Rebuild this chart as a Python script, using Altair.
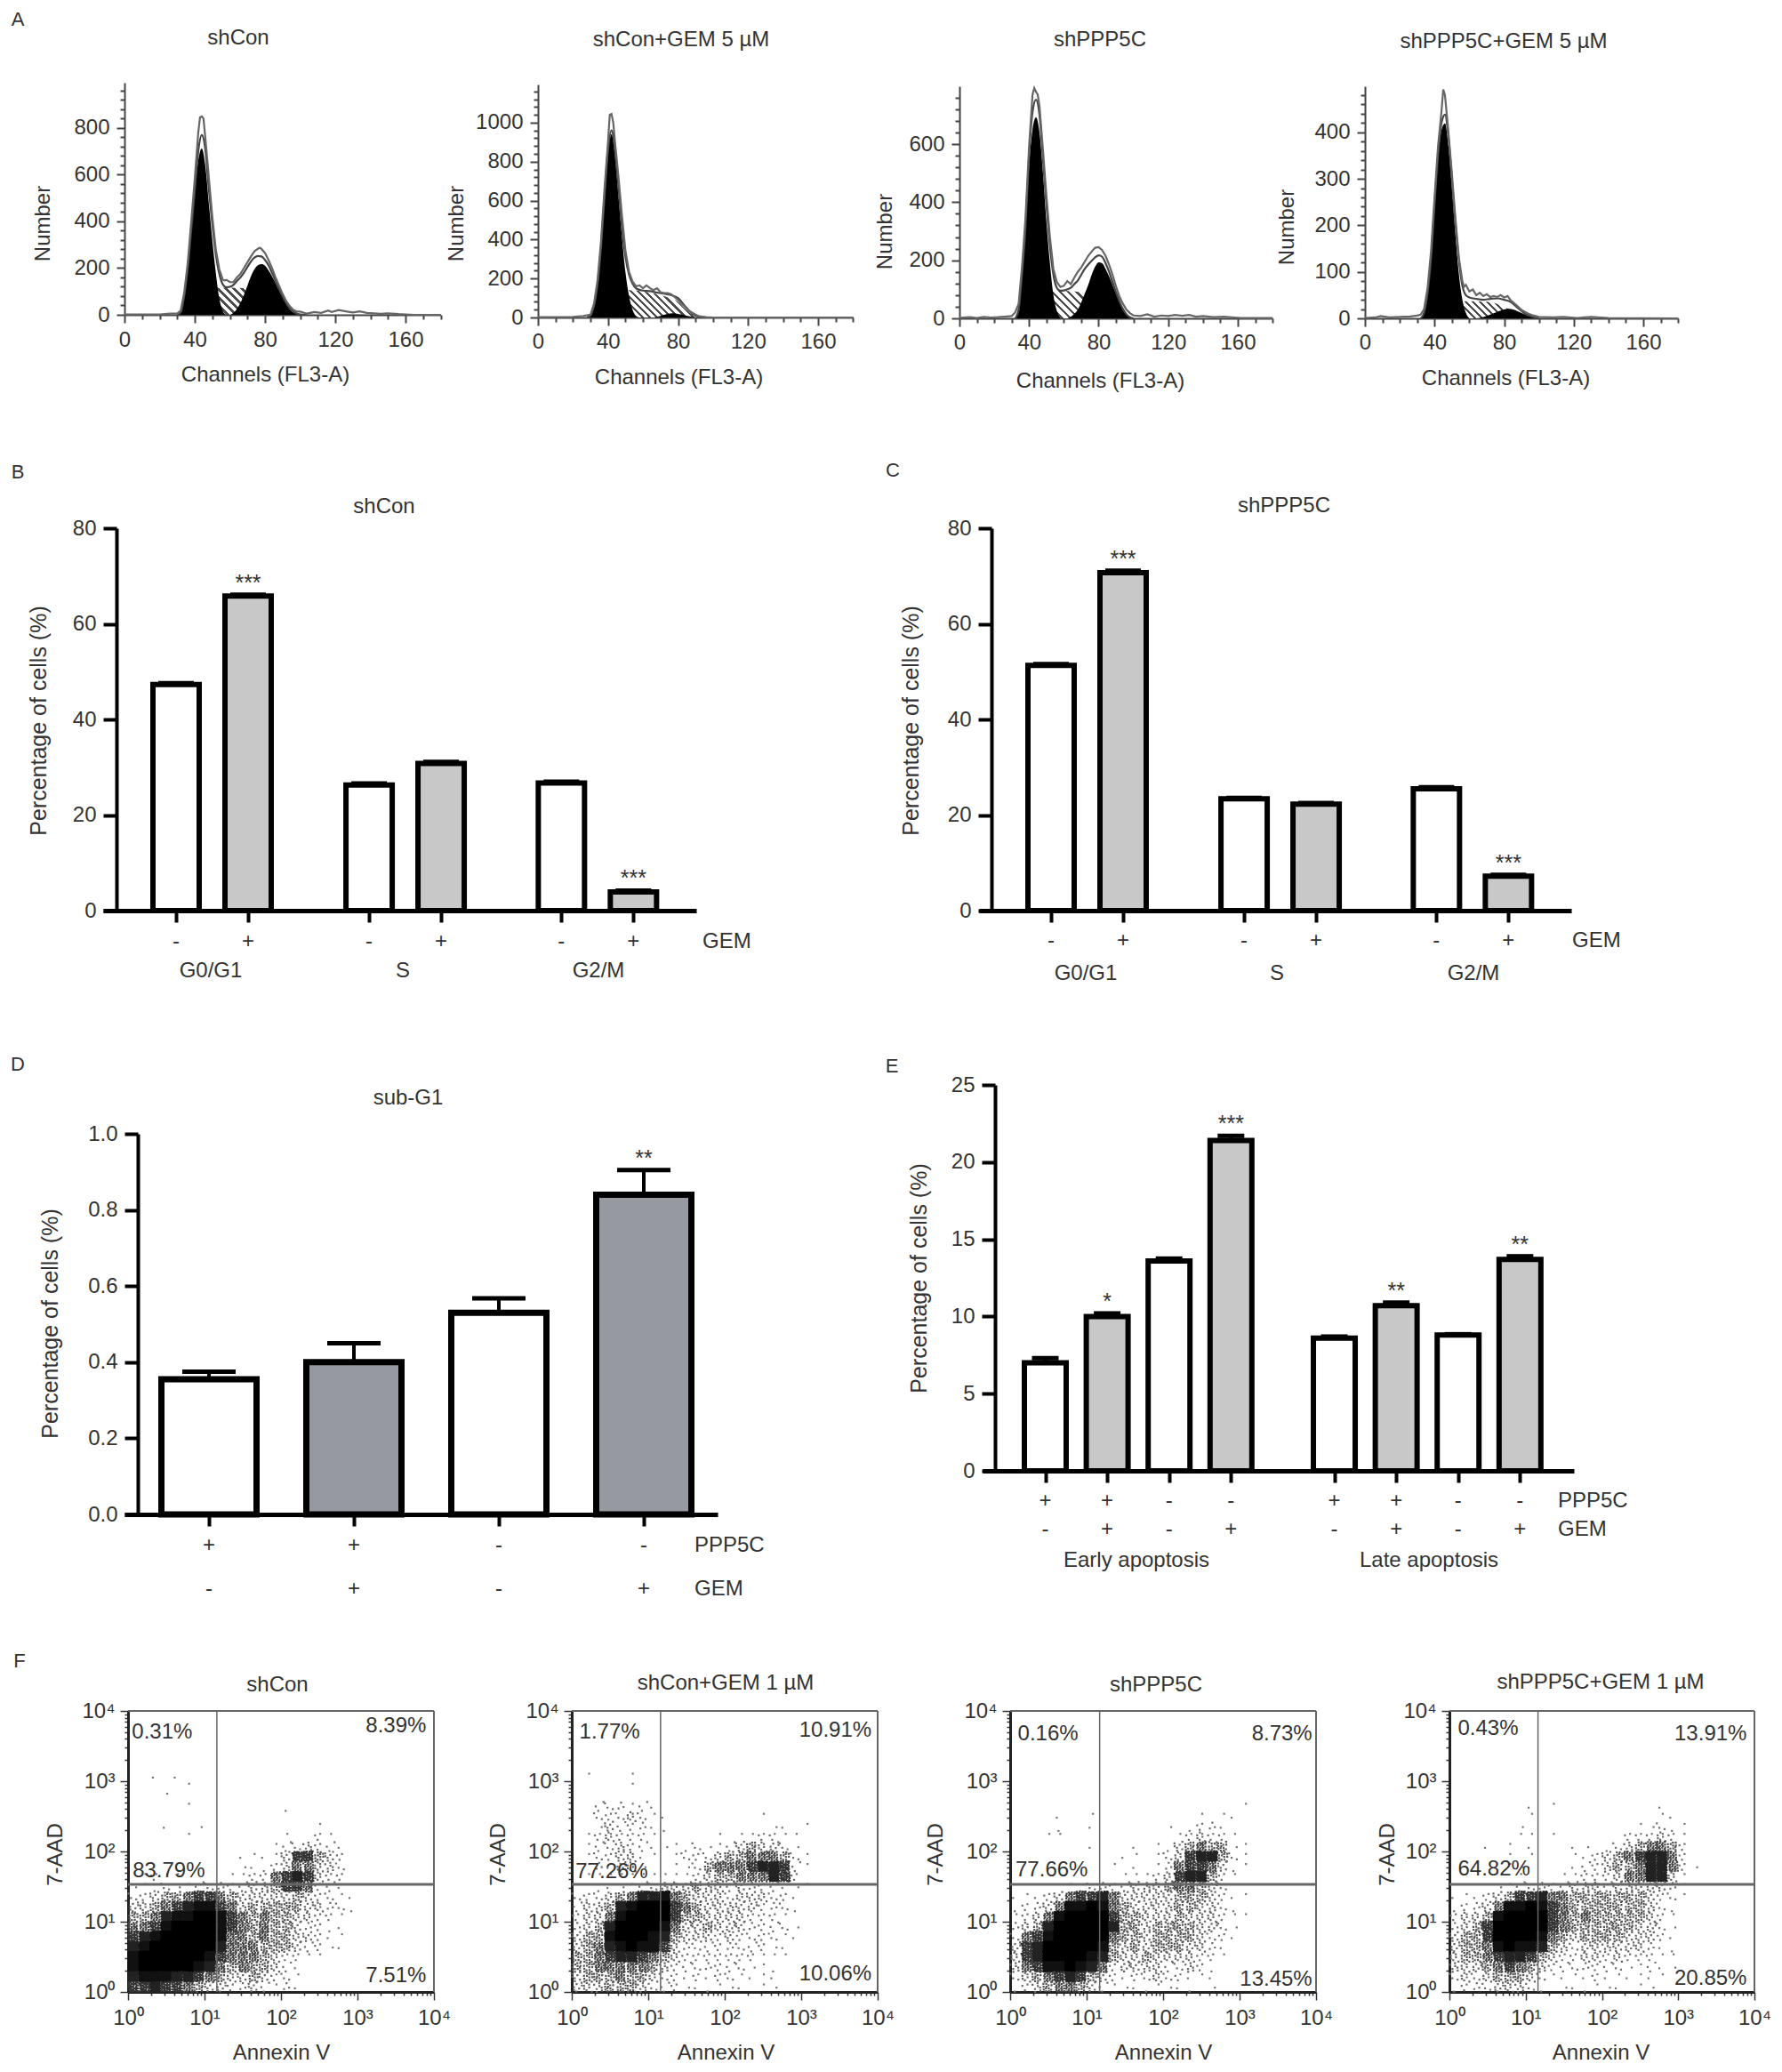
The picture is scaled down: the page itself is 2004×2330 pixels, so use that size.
import altair as alt
import pandas as pd

FONT = "Liberation Sans"
INK = "#333333"

# ---------- A: histogram readings, (channel, count) ----------
A1_G1 = [(30,0),(32,10),(34,80),(36,200),(38,360),(40,520),(42,660),(44,712),(46,640),(48,480),(50,320),(52,180),(54,70),(56,15),(58,0)]
A1_S = [(46,113),(60,116),(70,113),(76,60),(80,0)]
A1_G2 = [(60,0),(62,8),(64,25),(66,50),(68,85),(70,125),(72,165),(74,195),(76,212),(78,217),(80,210),(82,190),(84,165),(86,135),(88,105),(90,75),(92,48),(94,25),(96,10),(98,3),(100,0)]
A1_FIT = [(30,0),(32,10),(34,80),(36,200),(38,360),(40,530),(42,700),(44,770),(46,710),(48,540),(50,390),(52,260),(54,175),(56,130),(58,118),(60,120),(62,128),(64,145),(66,160),(68,180),(70,205),(72,228),(74,245),(76,252),(78,250),(80,235),(82,212),(84,180),(86,145),(88,112),(90,80),(92,52),(94,30),(96,15),(98,6),(100,2),(104,0)]
A1_HIST = [(0,2),(20,2),(26,5),(30,5),(32,18),(34,95),(36,220),(38,400),(40,580),(42,780),(43,846),(44,850),(45,840),(46,760),(48,590),(50,420),(52,280),(54,195),(56,150),(57,147),(58,150),(60,140),(62,140),(64,160),(66,175),(68,200),(70,225),(72,250),(74,272),(76,283),(77,287),(78,282),(80,265),(82,235),(84,200),(86,160),(88,125),(90,90),(92,60),(94,38),(96,22),(98,14),(100,14),(104,5),(108,12),(112,8),(116,18),(118,12),(122,20),(126,15),(130,10),(134,15),(138,8),(142,6),(146,4),(150,6),(156,3),(160,2),(165,0),(180,0)]

A2_G1 = [(28,0),(30,10),(32,60),(34,170),(36,360),(38,620),(40,850),(42,940),(44,830),(46,620),(48,410),(50,230),(52,110),(54,40),(56,8),(58,0)]
A2_S = [(44,135),(50,140),(60,135),(65,125),(70,115),(75,100),(80,80),(84,45),(88,15),(92,0)]
A2_G2 = [(66,0),(70,8),(74,18),(77,22),(80,18),(84,10),(88,3),(92,0)]
A2_FIT = [(28,0),(30,10),(32,60),(34,170),(36,360),(38,620),(40,860),(42,960),(44,860),(46,670),(48,460),(50,310),(52,220),(54,175),(56,150),(58,142),(60,138),(64,135),(68,128),(72,122),(76,115),(80,100),(84,58),(88,20),(92,3),(96,0)]
A2_HIST = [(0,2),(20,3),(26,8),(30,15),(32,70),(34,190),(36,390),(38,660),(40,900),(41,1040),(42,1045),(43,1000),(44,900),(46,720),(48,520),(50,340),(52,235),(54,185),(56,160),(58,165),(60,150),(62,165),(64,150),(66,140),(68,150),(70,130),(72,125),(74,125),(76,120),(78,105),(80,90),(82,70),(84,55),(86,35),(88,25),(90,15),(92,6),(96,2),(100,0),(180,0)]

A3_G1 = [(32,0),(34,30),(36,150),(38,310),(40,520),(42,650),(44,692),(46,640),(48,500),(50,330),(52,190),(54,80),(56,25),(58,0)]
A3_S = [(46,92),(60,95),(70,90),(76,40),(80,0)]
A3_G2 = [(62,0),(64,5),(66,15),(68,30),(70,55),(72,85),(74,115),(76,150),(78,178),(80,193),(82,190),(84,170),(86,145),(88,115),(90,85),(92,55),(94,30),(96,12),(98,3),(100,0)]
A3_FIT = [(32,0),(34,30),(36,155),(38,320),(40,560),(42,710),(44,753),(46,700),(48,550),(50,390),(52,250),(54,150),(56,105),(58,95),(60,96),(62,100),(64,105),(66,118),(68,130),(70,150),(72,170),(74,185),(76,198),(78,210),(80,217),(82,212),(84,190),(86,160),(88,125),(90,90),(92,58),(94,32),(96,14),(98,4),(100,0)]
A3_HIST = [(0,2),(6,4),(10,1),(14,5),(18,3),(22,4),(26,6),(30,8),(32,20),(34,50),(36,180),(38,350),(40,590),(42,770),(43,793),(44,780),(45,770),(46,730),(48,580),(50,420),(52,280),(54,170),(56,125),(58,108),(60,112),(62,128),(64,118),(66,140),(68,160),(70,175),(72,195),(74,215),(76,230),(78,243),(80,245),(82,235),(84,215),(86,185),(88,150),(90,110),(92,75),(94,50),(96,30),(98,18),(100,10),(104,8),(108,14),(112,6),(116,10),(120,8),(124,12),(128,9),(132,12),(136,6),(140,8),(146,4),(152,6),(158,3),(162,1),(180,1)]

A4_G1 = [(32,0),(34,12),(36,55),(38,130),(40,240),(42,340),(44,405),(46,419),(48,370),(50,280),(52,180),(54,95),(56,40),(58,12),(60,0)]
A4_S = [(48,36),(60,37),(70,36),(78,28),(84,15),(88,0)]
A4_G2 = [(64,0),(68,3),(72,8),(76,14),(80,19),(82,21),(84,20),(88,15),(92,8),(96,3),(100,0)]
A4_FIT = [(32,0),(34,12),(36,55),(38,130),(40,245),(42,350),(44,420),(46,438),(48,390),(50,300),(52,205),(54,125),(56,70),(58,50),(60,45),(64,42),(68,40),(72,42),(76,43),(80,40),(84,35),(88,22),(92,10),(96,4),(100,0)]
A4_HIST = [(0,1),(6,2),(9,5),(14,2),(20,3),(26,4),(30,6),(32,8),(34,20),(36,65),(38,145),(40,260),(42,370),(44,445),(45,492),(46,480),(47,440),(48,400),(50,310),(52,215),(54,130),(56,80),(57,68),(58,72),(60,58),(62,62),(64,50),(66,55),(68,48),(70,52),(72,46),(74,48),(76,46),(78,50),(80,45),(82,48),(84,38),(86,32),(88,25),(90,18),(92,14),(94,10),(96,7),(100,3),(108,2),(114,3),(122,1),(130,3),(140,1),(180,0)]

# ---------- B-E: bar readings ----------
B_SIGNS = ["-", "+", "-", "+", "-", "+"]
B_VALUES = [47.3, 65.8, 26.3, 30.8, 26.7, 3.9]
B_TOPS = [47.6, 66.1, 26.6, 31.1, 27.0, 4.2]
B_STARS = ["", "***", "", "", "", "***"]
C_VALUES = [51.3, 70.7, 23.4, 22.3, 25.5, 7.2]
C_TOPS = [51.6, 71.1, 23.6, 22.5, 25.8, 7.5]
C_STARS = ["", "***", "", "", "", "***"]
D_PPP5C = ["+", "+", "-", "-"]
D_GEM = ["-", "+", "-", "+"]
D_VALUES = [0.355, 0.40, 0.53, 0.84]
D_TOPS = [0.375, 0.45, 0.568, 0.905]
D_STARS = ["", "", "", "**"]
E_PPP5C = ["+", "+", "-", "-", "+", "+", "-", "-"]
E_GEM = ["-", "+", "-", "+", "-", "+", "-", "+"]
E_VALUES = [7.0, 10.0, 13.6, 21.4, 8.6, 10.7, 8.8, 13.7]
E_TOPS = [7.3, 10.2, 13.75, 21.7, 8.7, 10.9, 8.85, 13.9]
E_STARS = ["", "*", "", "***", "", "**", "", "**"]

# ---------- F: density of events read per cell, 7 cells per decade, top row first ----------
F1_GRID = """000000000000000000000000
001010000000000000000000
000001000000000000000000
000100000000000000000000
000001000000001000000000
000000000000000000000000
000100100000000001000000
000001000000001002100000
000000000000012232210000
000000000011113664320000
000000000011123553320000
012110000112256763220000
111211222223346652210000
223445665433333432211000
334567886534444433221000
445788998654544332210000
556899998654544322110000
678999998554544332110000
789999997555444322110000
899999986555432211000000
899999875454432100000000
788877654334322100000000
667665433223212100000000""".split("\n")
F2_GRID = """000000000000000000000000
010001000000000000000000
000001000000000000000000
000000000000000000000000
002221210000000000000000
002223211000000001000000
001322211000000000110100
012322210000010112211000
012232211112112343321000
012233110122234455542100
012133100112455567762100
011111111112344555762000
001111223334332322211100
222345778543332333221000
233478999654333332221000
233589999644333322210000
234799998533433322221000
344899987433323222211000
345789886322222222110000
445677654322222221110000
445555543222222211100000
344454432212122111100000
333444322211111101100000""".split("\n")
F3_GRID = """000000000000000000000000
000000000000000000000000
000000000000000000000000
000000000000000000000000
000000000000000000000100
000010010000000001011000
000010010000001012210000
000110000000000123221000
000000010001011345441100
000000000011012367742100
000000000101012566531100
000000000011123677421000
000001122223334554320000
111235667533333444321100
122358898543333443321000
123589999644333433321100
234799999744344443321000
256899999544344443221000
367999998434344433210000
367999987433433332210000
356889875233332232100000
234567643212232211100000
123455432111111110100000""".split("\n")
F4_GRID = """000000000000000000000000
000000000000000000000000
000000000000000000000000
000000000000000000000000
000000010100000000010000
000000010000000000011000
000000100000000001121100
000000110100000022232100
000101010001101234554200
000001010001123456775200
000001110001223445775210
000000100011222355773100
000011222223332333332100
111234667554444444322100
122358898654444444321000
233489999654544444321000
234699999654444443321000
344699998543444433321000
344589887432333333211000
344567764322332322211000
333456543222222211211000
232344432111121111110000
122233321011111101100000""".split("\n")
F1_PCT = ["0.31%", "8.39%", "83.79%", "7.51%"]
F2_PCT = ["1.77%", "10.91%", "77.26%", "10.06%"]
F3_PCT = ["0.16%", "8.73%", "77.66%", "13.45%"]
F4_PCT = ["0.43%", "13.91%", "64.82%", "20.85%"]
# decade positions of the four percent labels: (x, y)
F1_PCT_AT = [(.05,3.70),(3.90,3.78),(.06,1.72),(3.90,.23)]
F2_PCT_AT = [(.10,3.70),(3.92,3.72),(.05,1.71),(3.92,.25)]
F3_PCT_AT = [(.10,3.67),(3.95,3.67),(.07,1.74),(3.95,.18)]
F4_PCT_AT = [(.11,3.75),(3.90,3.67),(.11,1.75),(3.90,.19)]


def text(s, x, y, size=24, align="center", angle=0, color=INK, weight="normal"):
    return alt.Chart(pd.DataFrame({"t": [s]})).mark_text(
        font=FONT, fontSize=size, align=align, baseline="middle", angle=angle, color=color, fontWeight=weight
    ).encode(text="t:N", x=alt.value(x), y=alt.value(y))


def cell(layers, w, h):
    return alt.layer(*layers).properties(width=w, height=h)


def hatch(w, h, period=7.0):
    # diagonal stripes at 45 degrees in pixel space for a w x h box
    n = max(3, int((w + h) / period))
    c = 1 + h / w
    stops = []
    for k in range(n):
        stops += [
            alt.GradientStop(color="#ffffff", offset=k / n),
            alt.GradientStop(color="#ffffff", offset=(k + 0.62) / n),
            alt.GradientStop(color="#4a4a4a", offset=(k + 0.62) / n),
            alt.GradientStop(color="#4a4a4a", offset=(k + 1) / n),
        ]
    return alt.LinearGradient(gradient="linear", stops=stops, x1=0, y1=1, x2=c, y2=1 - c * h / w)


def hist_panel(o, g1, s, g2, fit, hist, x0, x160, y0, ytop, ymax, major, minor,
               title, title_at, xtitle_at, ytitle_at, letter=None, labels_y=383):
    ox, oy, w, h = o
    ppc = (x160 - x0) / 160
    ppv = (y0 - ytop) / ymax
    xs = alt.Scale(domain=[0, 180], range=[x0 - ox, x0 - ox + 180 * ppc], nice=False)
    ys = alt.Scale(domain=[0, ymax], range=[y0 - oy, ytop - oy], nice=False, zero=False)
    ax = alt.Axis(values=list(range(0, 181, 10)), labelExpr="datum.value % 40 === 0 ? datum.label : ''",
                  tickSize={"condition": {"test": "datum.value % 40 === 0", "value": 9}, "value": 5},
                  offset=-(h - (y0 - oy)), domainColor="#444", tickColor="#444", domainWidth=2, tickWidth=2,
                  labelFont=FONT, labelFontSize=24, labelColor=INK, labelPadding=max(4, labels_y - y0 - 22),
                  labelOverlap=False, labelFlush=False, grid=False,
                  title="Channels (FL3-A)", titleFont=FONT, titleFontSize=24, titleColor=INK, titleFontWeight="normal",
                  titleX=xtitle_at[0] - ox, titleY=xtitle_at[1] - y0, titleAlign="center", titleBaseline="middle", titleAnchor=None)
    ay = alt.Axis(values=list(range(0, int(ymax) + 1, minor)), format="d",
                  labelExpr=f"datum.value % {major} === 0 ? datum.label : ''",
                  tickSize={"condition": {"test": f"datum.value % {major} === 0", "value": 9}, "value": 5},
                  offset=-(x0 - ox), domainColor="#444", tickColor="#444", domainWidth=2, tickWidth=2,
                  labelFont=FONT, labelFontSize=24, labelColor=INK, labelPadding=8,
                  labelOverlap=False, labelFlush=False, grid=False,
                  title="Number", titleFont=FONT, titleFontSize=24, titleColor=INK, titleFontWeight="normal",
                  titleX=ytitle_at[0] - x0, titleY=ytitle_at[1] - oy, titleAlign="center", titleBaseline="middle", titleAngle=270)

    def df(v):
        return pd.DataFrame(v, columns=["ch", "n"]).assign(z=0)

    def area(v, **kw):
        return alt.Chart(df(v)).mark_area(interpolate="monotone", **kw).encode(
            x=alt.X("ch:Q", scale=xs, axis=ax), y=alt.Y("n:Q", scale=ys, axis=ay), y2="z:Q")

    def line(v, color, width, interp):
        return alt.Chart(df(v)).mark_line(color=color, strokeWidth=width, interpolate=interp).encode(
            x=alt.X("ch:Q", scale=xs, axis=ax), y=alt.Y("n:Q", scale=ys, axis=ay))

    sw = (s[-1][0] - s[0][0]) * ppc
    sh = max(n for _, n in s) * ppv
    layers = [area(s, color=hatch(sw, sh)),
              area(g1, color="#000000"), area(g2, color="#000000"),
              line(fit, "#444444", 2.2, "monotone"), line(hist, "#666666", 2.2, "linear"),
              text(title, title_at[0] - ox, title_at[1] - oy)]
    if letter:
        layers.append(text(letter, 20 - ox, 22 - oy, size=22))
    return cell(layers, w, h)


def bar_panel(o, slots, slot0_px, slot_step, values, tops, stars, rows, fill, axis_x, x_left, x_right, y0, ytop, ymax, ystep,
              outer, cap, sw, title, title_at, ytitle_at, groups, rowlabels, tick_len, tick_in, fmt, letter, letter_at):
    ox, oy, w, h = o
    dom = [slots[0] + (x_left - slot0_px) / slot_step, slots[0] + (x_right - slot0_px) / slot_step]
    xs = alt.Scale(domain=dom, range=[x_left - ox, x_right - ox], nice=False, zero=False)
    ys = alt.Scale(domain=[0, ymax], range=[y0 - oy, ytop - oy], nice=False, zero=False)
    half = (outer - sw) / 2 / slot_step
    caphalf = cap / 2 / slot_step
    d = pd.DataFrame({"slot": slots, "val": values, "top": tops, "star": stars, "fill": fill})
    d["lo"] = d.slot - half
    d["hi"] = d.slot + half
    d["cl"] = d.slot - caphalf
    d["cr"] = d.slot + caphalf
    d["z"] = 0
    nvals = [round(i * ystep, 4) for i in range(int(round(ymax / ystep)) + 1)]
    ax = alt.Axis(values=slots, labels=False, title=None, tickSize=tick_len, tickWidth=4, tickColor="#000", domainColor="#000",
                  domainWidth=5, grid=False, offset=-(h - (y0 - oy)))
    ay = alt.Axis(values=nvals, format=fmt, tickSize=tick_in, tickWidth=4, tickColor="#000", domainColor="#000", domainWidth=4,
                  grid=False, offset=-(axis_x - ox), labelFont=FONT, labelFontSize=24, labelColor=INK, labelPadding=8,
                  labelFlush=False, labelOverlap=False,
                  title="Percentage of cells (%)", titleFont=FONT, titleFontSize=25, titleColor=INK, titleFontWeight="normal",
                  titleX=ytitle_at[0] - axis_x, titleY=ytitle_at[1] - oy, titleAlign="center", titleBaseline="middle", titleAngle=270)
    x_lo = alt.X("lo:Q", scale=xs, axis=ax)
    y_val = alt.Y("val:Q", scale=ys, axis=ay)
    bars = alt.Chart(d).mark_rect(stroke="#000", strokeWidth=sw).encode(
        x=x_lo, x2="hi:Q", y=y_val, y2="z:Q", fill=alt.Fill("fill:N", scale=None))
    stem = alt.Chart(d).mark_rule(color="#000", strokeWidth=4).encode(
        x=alt.X("slot:Q", scale=xs, axis=ax), y=y_val, y2="top:Q")
    capm = alt.Chart(d).mark_rule(color="#000", strokeWidth=5).encode(
        x=alt.X("cl:Q", scale=xs, axis=ax), x2="cr:Q", y=alt.Y("top:Q", scale=ys, axis=ay))
    st = alt.Chart(d).mark_text(font=FONT, fontSize=25, color=INK, baseline="middle", dy=-13).encode(
        x=alt.X("slot:Q", scale=xs, axis=ax), y=alt.Y("top:Q", scale=ys, axis=ay), text="star:N")
    layers = [stem, capm, bars, st]
    for signs, py in rows:
        sd = pd.DataFrame({"slot": slots, "sign": signs})
        layers.append(alt.Chart(sd).mark_text(font=FONT, fontSize=24, color=INK, baseline="middle").encode(
            x=alt.X("slot:Q", scale=xs, axis=ax), y=alt.value(py - oy), text="sign:N"))
    for s, px, py in groups:
        layers.append(text(s, px - ox, py - oy))
    for s, px, py in rowlabels:
        layers.append(text(s, px - ox, py - oy, align="left"))
    if title:
        layers.append(text(title, title_at[0] - ox, title_at[1] - oy))
    layers.append(text(letter, letter_at[0] - ox, letter_at[1] - oy, size=22))
    return cell(layers, w, h)


# Dot texture of a flow-cytometry cell: how many tiny squares each density level draws.
DOTS = [0, 1, 3, 7, 13, 22, 36, 60, 110]
GREYS = ["#777777", "#707070", "#666666", "#555555", "#444444", "#333333", "#222222", "#111111", "#000000"]


def texture(n, v):
    d = 0.36
    parts = []
    for k in range(n):
        t = k + 1 + v * 17
        px = -1.12 + (2.24 - d) * ((t * 0.7548776662) % 1)
        py = -1.12 + (2.24 - d) * ((t * 0.5698402910) % 1)
        parts.append(f"M{px:.2f} {py:.2f}h{d}v{d}h-{d}z")
    return "".join(parts)


KEYS = []
PATHS = []
for lv in range(1, 9):
    for v in range(4):
        KEYS.append(f"{lv}{v}")
        PATHS.append(texture(DOTS[lv], v))
for v in range(4):
    KEYS.append(f"9{v}")
    PATHS.append("M-1.1 -1.1H1.1V1.1H-1.1Z")


def scatter_panel(o, grid, pct, pct_at, x0, x1, y0, y1, vline, title, title_at, xt_at, yt_at, letter=None):
    ox, oy, w, h = o
    xs = alt.Scale(type="log", domain=[1, 10000], range=[x0 - ox, x1 - ox], nice=False)
    ys = alt.Scale(type="log", domain=[1, 10000], range=[y0 - oy, y1 - oy], nice=False)
    ticks = [m * 10 ** e for e in range(4) for m in range(1, 10)] + [10000]
    lab = ("datum.value==1?'10⁰':datum.value==10?'10¹':datum.value==100?'10²':"
           "datum.value==1000?'10³':datum.value==10000?'10⁴':''")
    cond = {"condition": {"test": "indexof([1,10,100,1000,10000],datum.value)>=0", "value": 9}, "value": 4}
    ax = alt.Axis(values=ticks, labelExpr=lab, tickSize=cond, tickWidth=1.5, tickColor="#333", domainColor="#222", domainWidth=3,
                  offset=-(h - (y0 - oy)), grid=False, labelFont=FONT, labelFontSize=24, labelColor=INK, labelPadding=8,
                  labelOverlap=False, labelFlush=False, title="Annexin V", titleFont=FONT, titleFontSize=24, titleColor=INK,
                  titleFontWeight="normal", titleX=xt_at[0] - ox, titleY=xt_at[1] - y0, titleAlign="center", titleBaseline="middle")
    ay = alt.Axis(values=ticks, labelExpr=lab, tickSize=cond, tickWidth=1.5, tickColor="#333", domainColor="#222", domainWidth=3,
                  offset=-(x0 - ox), grid=False, labelFont=FONT, labelFontSize=24, labelColor=INK, labelPadding=6,
                  labelOverlap=False, labelFlush=False, title="7-AAD", titleFont=FONT, titleFontSize=24, titleColor=INK,
                  titleFontWeight="normal", titleX=yt_at[0] - x0, titleY=yt_at[1] - oy, titleAlign="center", titleBaseline="middle", titleAngle=270)
    rows = []
    nrows = len(grid)
    for r, line in enumerate(grid):
        for c, ch in enumerate(line):
            if ch != "0":
                rows.append({"x": 10 ** ((c + 0.5) / 7), "y": 10 ** ((nrows - r - 0.5) / 7), "lvl": ch,
                             "key": f"{ch}{(r * 3 + c * 5 + c * r) % 4}"})
    d = pd.DataFrame(rows)
    side = (x1 - x0) / 4 / 7
    X = alt.X("x:Q", scale=xs, axis=ax)
    Y = alt.Y("y:Q", scale=ys, axis=ay)
    pts = alt.Chart(d).mark_point(filled=True, size=side * side, opacity=1, strokeWidth=0).encode(
        x=X, y=Y,
        shape=alt.Shape("key:N", scale=alt.Scale(domain=KEYS, range=PATHS), legend=None),
        color=alt.Color("lvl:N", scale=alt.Scale(domain=list("123456789"), range=GREYS), legend=None))
    seg = pd.DataFrame({"x": [1, 10000, vline, 1], "x2": [10000, 10000, vline, 10000],
                        "y": [10000, 1, 1, 34], "y2": [10000, 10000, 10000, 34], "w": [2, 2, 1.5, 3]})
    rules = alt.Chart(seg).mark_rule(color="#666666").encode(
        x=alt.X("x:Q", scale=xs, axis=ax), x2="x2:Q", y=alt.Y("y:Q", scale=ys, axis=ay), y2="y2:Q",
        strokeWidth=alt.StrokeWidth("w:Q", scale=None))
    pd_lab = pd.DataFrame({"t": pct, "x": [10 ** a for a, _ in pct_at], "y": [10 ** b for _, b in pct_at]})
    left = alt.Chart(pd_lab.iloc[[0, 2]]).mark_text(font=FONT, fontSize=24, color=INK, align="left", baseline="middle").encode(
        x=alt.X("x:Q", scale=xs, axis=ax), y=alt.Y("y:Q", scale=ys, axis=ay), text="t:N")
    right = alt.Chart(pd_lab.iloc[[1, 3]]).mark_text(font=FONT, fontSize=24, color=INK, align="right", baseline="middle").encode(
        x=alt.X("x:Q", scale=xs, axis=ax), y=alt.Y("y:Q", scale=ys, axis=ay), text="t:N")
    layers = [pts, rules, left, right, text(title, title_at[0] - ox, title_at[1] - oy)]
    if letter:
        layers.append(text(letter, 22 - ox, 1868 - oy, size=22))
    return cell(layers, w, h)


# Row and cell origins, in page pixels: (left, top, width, height)
R1, R1H = 8, 482
A_CELLS = [(8, R1, 582, R1H), (590, R1, 470, R1H), (1060, R1, 440, R1H), (1500, R1, 496, R1H)]
R2, R2H = 490, 680
R3, R3H = 1170, 660
R4, R4H = 1830, 492

a1 = hist_panel(A_CELLS[0], A1_G1, A1_S, A1_G2, A1_FIT, A1_HIST, 140, 456, 354, 93, 994, 200, 40,
                "shCon", (268, 43), (298, 421), (48, 251), letter="A", labels_y=383)
a2 = hist_panel(A_CELLS[1], A2_G1, A2_S, A2_G2, A2_FIT, A2_HIST, 605, 920, 357, 95, 1196, 200, 40,
                "shCon+GEM 5 µM", (766, 45), (763, 424), (513, 251), labels_y=385)
a3 = hist_panel(A_CELLS[2], A3_G1, A3_S, A3_G2, A3_FIT, A3_HIST, 1079, 1392, 358, 97, 799, 200, 40,
                "shPPP5C", (1237, 45), (1237, 428), (995, 260), labels_y=386)
a4 = hist_panel(A_CELLS[3], A4_G1, A4_S, A4_G2, A4_FIT, A4_HIST, 1535, 1848, 358, 97, 499, 100, 20,
                "shPPP5C+GEM 5 µM", (1691, 47), (1693, 425), (1447, 255), labels_y=386)
row1 = alt.hconcat(a1, a2, a3, a4, spacing=0, bounds="flush")

SLOTS_6 = [1, 2, 3.68, 4.68, 6.35, 7.35]
b = bar_panel((8, R2, 992, R2H), SLOTS_6, 198, 81, B_VALUES, B_TOPS, B_STARS, [(B_SIGNS, 1059)], ["#ffffff", "#c8c8c8"] * 3,
              131, 116, 783, 1024, 594, 80, 20, 58, 40, 6, "shCon", (432, 570), (43, 810),
              [("G0/G1", 237, 1092), ("S", 453, 1092), ("G2/M", 673, 1092)], [("GEM", 790, 1059)], 13, 15, "d", "B", (20, 531))
c = bar_panel((1000, R2, 996, R2H), SLOTS_6, 1182, 81, C_VALUES, C_TOPS, C_STARS, [(B_SIGNS, 1058)], ["#ffffff", "#c8c8c8"] * 3,
              1115, 1101, 1767, 1024, 594, 80, 20, 58, 40, 6, "shPPP5C", (1444, 569), (1024, 810),
              [("G0/G1", 1221, 1095), ("S", 1436, 1095), ("G2/M", 1657, 1095)], [("GEM", 1768, 1058)], 13, 15, "d", "C", (1004, 529))
row2 = alt.hconcat(b, c, spacing=0, bounds="flush")

d_p = bar_panel((8, R3, 992, R3H), [1, 2, 3, 4], 235, 163, D_VALUES, D_TOPS, D_STARS, [(D_PPP5C, 1738), (D_GEM, 1787)], ["#ffffff", "#96999f"] * 2,
                155, 140, 807, 1703, 1275, 1.0, 0.2, 114, 60, 7, "sub-G1", (459, 1235), (56, 1488),
                [], [("PPP5C", 781, 1738), ("GEM", 781, 1787)], 13, 15, ".1f", "D", (20, 1197))
e_p = bar_panel((1000, R3, 996, R3H), [1, 2, 3, 4, 5.67, 6.67, 7.67, 8.67], 1175.5, 69.6, E_VALUES, E_TOPS, E_STARS, [(E_PPP5C, 1688), (E_GEM, 1720)], ["#ffffff", "#c8c8c8"] * 4,
                1119, 1105, 1770, 1654, 1220, 25, 5, 53, 30, 6, None, None, (1033, 1437),
                [("Early apoptosis", 1278, 1755), ("Late apoptosis", 1607, 1755)], [("PPP5C", 1752, 1688), ("GEM", 1752, 1720)], 13, 15, "d", "E", (1003, 1199))
row3 = alt.hconcat(d_p, e_p, spacing=0, bounds="flush")

F_CELLS = [(8, R4, 582, R4H), (590, R4, 470, R4H), (1060, R4, 490, R4H), (1550, R4, 446, R4H)]
f1 = scatter_panel(F_CELLS[0], F1_GRID, F1_PCT, F1_PCT_AT, 144, 488, 2240, 1924, 14.5, "shCon", (312, 1895), (316, 2308), (62, 2085), letter="F")
f2 = scatter_panel(F_CELLS[1], F2_GRID, F2_PCT, F2_PCT_AT, 643, 987, 2240, 1924, 14.5, "shCon+GEM 1 µM", (816, 1893), (816, 2308), (560, 2085))
f3 = scatter_panel(F_CELLS[2], F3_GRID, F3_PCT, F3_PCT_AT, 1136, 1480, 2240, 1924, 14.8, "shPPP5C", (1300, 1895), (1308, 2308), (1052, 2085))
f4 = scatter_panel(F_CELLS[3], F4_GRID, F4_PCT, F4_PCT_AT, 1630, 1973, 2240, 1924, 14.5, "shPPP5C+GEM 1 µM", (1800, 1892), (1800, 2308), (1560, 2085))
row4 = alt.hconcat(f1, f2, f3, f4, spacing=0, bounds="flush")

chart = alt.vconcat(row1, row2, row3, row4, spacing=0).properties(
    padding=0, background="#ffffff"
).configure_view(stroke=None).configure_axis(labelFontWeight="normal")

chart.save("out.html", embed_options={"renderer": "svg", "actions": False})
